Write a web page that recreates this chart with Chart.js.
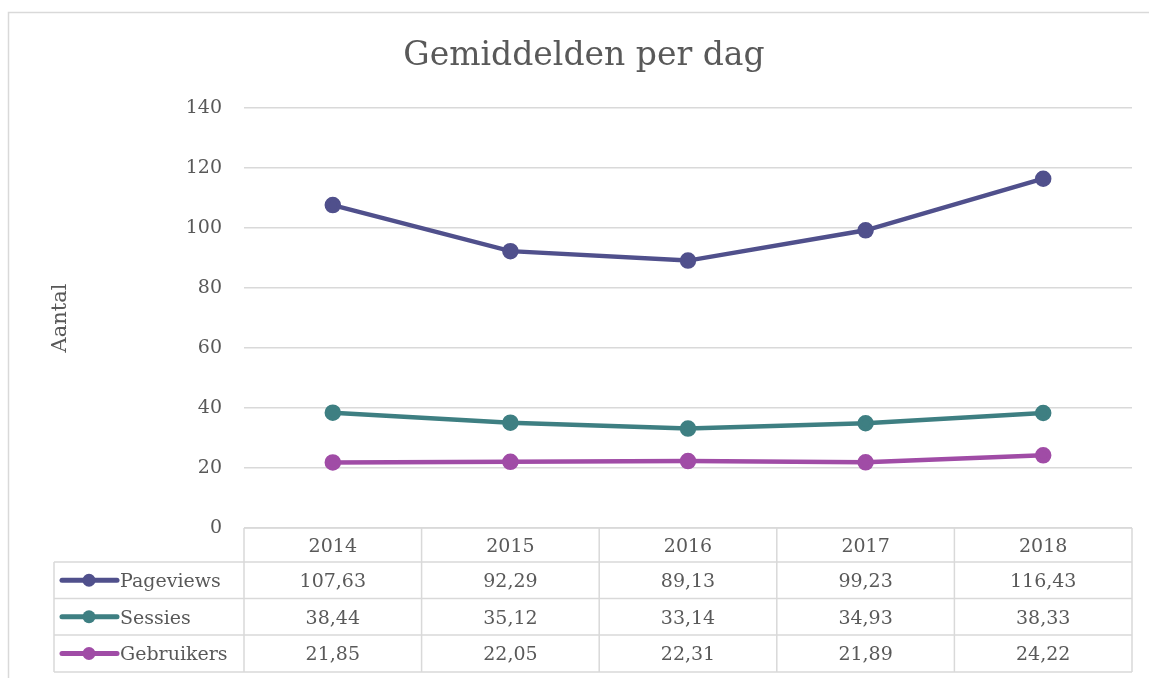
<!DOCTYPE html>
<html>
<head>
<meta charset="utf-8">
<script src="https://cdn.jsdelivr.net/npm/chart.js@4.4.0/dist/chart.umd.min.js"></script>
<style>
  body { margin: 0; background: #fff; }
  canvas { display: block; }
</style>
</head>
<body>
<canvas id="myChart" width="1149" height="678"></canvas>
<script>
'use strict'

// data
var years = ['2014', '2015', '2016', '2017', '2018'];
var pageviews = [107.63, 92.29, 89.13, 99.23, 116.43];
var sessies = [38.44, 35.12, 33.14, 34.93, 38.33];
var gebruikers = [21.85, 22.05, 22.31, 21.89, 24.22];
var seriesNames = ['Pageviews', 'Sessies', 'Gebruikers'];
var seriesColors = ['#50508c', '#3e7f82', '#a04ca6'];

var grey = '#595959';
var lineGrey = '#d9d9d9';
var font = "'DejaVu Serif', Georgia, serif";

function fmt(v) {
	return v.toFixed(2).replace('.', ',');
}

// outer frame + data table under the plot
var tablePlugin = {
	id: 'dataTable',
	beforeDraw: function(chart) {
		var c = chart.ctx;
		c.save();
		c.fillStyle = '#fff';
		c.fillRect(0, 0, chart.width, chart.height);
		c.strokeStyle = lineGrey;
		c.lineWidth = 1.5;
		c.strokeRect(8.5, 12.5, 1160, 700);
		c.restore();
	},
	afterDraw: function(chart) {
		var c = chart.ctx;
		var area = chart.chartArea;
		var x = chart.scales.x;
		var top = area.bottom;
		var rowH = [34, 36.5, 36.5, 37];
		var left = 54;
		var colW = (area.right - area.left) / years.length;
		var ys = [top];
		rowH.forEach(function(h, i) { ys.push(ys[i] + h); });

		c.save();
		c.strokeStyle = lineGrey;
		c.lineWidth = 1.5;
		c.beginPath();
		// horizontal lines
		c.moveTo(area.left, top); c.lineTo(area.right, top);
		for (var i = 1; i < ys.length; i++) {
			c.moveTo(left, ys[i]); c.lineTo(area.right, ys[i]);
		}
		// vertical lines
		for (var j = 0; j <= years.length; j++) {
			var vx = area.left + j * colW;
			c.moveTo(vx, top); c.lineTo(vx, ys[ys.length - 1]);
		}
		c.moveTo(left, ys[1]); c.lineTo(left, ys[ys.length - 1]);
		c.stroke();

		c.fillStyle = grey;
		c.font = '19px ' + font;
		c.textAlign = 'center';
		c.textBaseline = 'middle';
		years.forEach(function(y, k) {
			c.fillText(y, x.getPixelForValue(k), (ys[0] + ys[1]) / 2 + 2);
		});
		chart.data.datasets.forEach(function(ds, r) {
			var cy = (ys[r + 1] + ys[r + 2]) / 2 + 2;
			ds.data.forEach(function(v, k) {
				c.fillStyle = grey;
				c.textAlign = 'center';
				c.fillText(fmt(v), x.getPixelForValue(k), cy);
			});
			// legend key
			c.strokeStyle = ds.borderColor;
			c.lineWidth = 5;
			c.lineCap = 'round';
			c.beginPath();
			c.moveTo(62, cy - 2); c.lineTo(117, cy - 2);
			c.stroke();
			c.fillStyle = ds.borderColor;
			c.beginPath();
			c.arc(89, cy - 2, 6.5, 0, Math.PI * 2);
			c.fill();
			c.fillStyle = grey;
			c.textAlign = 'left';
			c.fillText(ds.label, 120, cy);
		});
		c.restore();
	}
};

var datasets = [pageviews, sessies, gebruikers].map(function(d, i) {
	return {
		label: seriesNames[i],
		data: d,
		borderColor: seriesColors[i],
		backgroundColor: seriesColors[i],
		borderWidth: 4.5,
		pointRadius: 6,
		pointHoverRadius: 6,
		tension: 0
	};
});

var ctx = document.getElementById('myChart').getContext('2d');

var chart = new Chart(ctx, {
	type: 'line',
	data: {
		labels: years,
		datasets: datasets
	},
	options: {
		responsive: false,
		animation: false,
		layout: {
			padding: { left: 36, right: 17, top: 12, bottom: 150 }
		},
		plugins: {
			legend: { display: false },
			tooltip: { enabled: false },
			title: {
				display: true,
				text: 'Gemiddelden per dag',
				color: grey,
				font: { family: font, size: 33, weight: 'normal' },
				padding: { top: 25, bottom: 31.4 }
			}
		},
		scales: {
			x: {
				display: false,
				offset: true
			},
			y: {
				min: 0,
				max: 140,
				afterFit: function(scale) { scale.width = 208; },
				ticks: {
					stepSize: 20,
					color: grey,
					padding: 22,
					font: { family: font, size: 19 }
				},
				grid: { color: lineGrey, lineWidth: 1.5, drawTicks: false },
				border: { display: false },
				title: {
					display: true,
					text: 'Aantal',
					color: grey,
					font: { family: font, size: 21 },
					padding: { top: 12, bottom: 0 }
				}
			}
		}
	},
	plugins: [tablePlugin]
});
</script>
</body>
</html>
